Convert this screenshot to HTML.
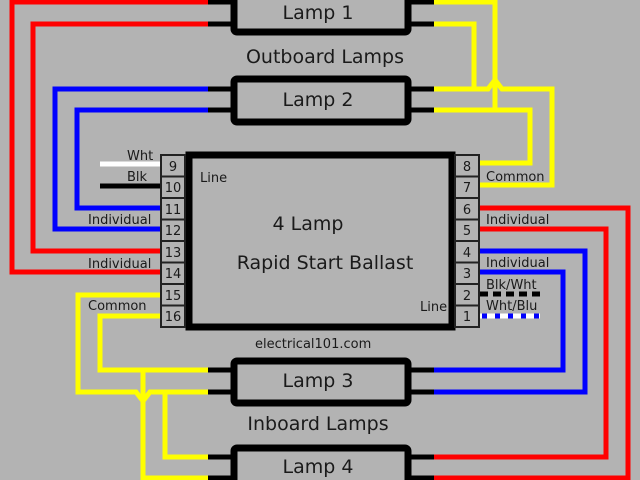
<!DOCTYPE html>
<html><head><meta charset="utf-8"><style>
html,body{margin:0;padding:0;background:#b3b3b3;}
svg{display:block;}
text{font-family:"DejaVu Sans","Liberation Sans",sans-serif;fill:#1a1a1a;}
</style></head><body>
<svg width="640" height="480" viewBox="0 0 640 480" xmlns="http://www.w3.org/2000/svg">
<rect width="640" height="480" fill="#b3b3b3"/>
<g fill="none" stroke-width="5" stroke-linejoin="miter">
<polyline points="210,2 12,2 12,272 160,272" stroke="#ff0000"/>
<polyline points="210,24 33,24 33,251 160,251" stroke="#ff0000"/>
<polyline points="210,89 55,89 55,229 160,229" stroke="#0000ff"/>
<polyline points="210,110 77,110 77,208 160,208" stroke="#0000ff"/>
<line x1="100" y1="164" x2="160" y2="164" stroke="#ffffff"/>
<line x1="100" y1="186" x2="160" y2="186" stroke="#000"/>
<polyline points="430,2 495,2 495,110" stroke="#ffff00"/>
<polyline points="430,110 530,110 530,163 480,163" stroke="#ffff00"/>
<polyline points="430,24 474,24 474,89" stroke="#ffff00"/>
<polyline points="430,89 488,89 495,80 502,89 552,89 552,185 480,185" stroke="#ffff00"/>
<polyline points="480,208 628,208 628,478 430,478" stroke="#ff0000"/>
<polyline points="480,229 606,229 606,457 430,457" stroke="#ff0000"/>
<polyline points="480,251 585,251 585,392 430,392" stroke="#0000ff"/>
<polyline points="480,272 563,272 563,370 430,370" stroke="#0000ff"/>
<line x1="480" y1="294" x2="540" y2="294" stroke="#000" stroke-dasharray="8,5"/>
<line x1="480" y1="316" x2="540" y2="316" stroke="#ffffff"/>
<line x1="482" y1="316" x2="540" y2="316" stroke="#0000ff" stroke-dasharray="5,8"/>
<polyline points="160,295 78,295 78,392 136,392 143,401 150,392 210,392" stroke="#ffff00"/>
<polyline points="160,316 100,316 100,370 210,370" stroke="#ffff00"/>
<polyline points="143,370 143,478 210,478" stroke="#ffff00"/>
<polyline points="165,392 165,457 210,457" stroke="#ffff00"/>
</g>
<g stroke="#000" stroke-width="5">
<line x1="208" y1="2" x2="232" y2="2"/><line x1="208" y1="24" x2="232" y2="24"/>
<line x1="410" y1="2" x2="434" y2="2"/><line x1="410" y1="24" x2="434" y2="24"/>
<line x1="208" y1="89" x2="232" y2="89"/><line x1="208" y1="110" x2="232" y2="110"/>
<line x1="410" y1="89" x2="434" y2="89"/><line x1="410" y1="110" x2="434" y2="110"/>
<line x1="208" y1="370" x2="232" y2="370"/><line x1="208" y1="392" x2="232" y2="392"/>
<line x1="410" y1="370" x2="434" y2="370"/><line x1="410" y1="392" x2="434" y2="392"/>
<line x1="208" y1="457" x2="232" y2="457"/><line x1="208" y1="478" x2="232" y2="478"/>
<line x1="410" y1="457" x2="434" y2="457"/><line x1="410" y1="478" x2="434" y2="478"/>
</g>
<g fill="#b3b3b3" stroke="#000" stroke-width="7">
<rect x="234" y="-20" width="174" height="52" rx="3"/>
<rect x="234" y="79" width="174" height="43" rx="3"/>
<rect x="234" y="361" width="174" height="42" rx="3"/>
<rect x="234" y="448" width="174" height="50" rx="3"/>
<rect x="189" y="155" width="263" height="172"/>
</g>
<g fill="#b3b3b3" stroke="#222" stroke-width="2">
<rect x="161" y="155" width="24" height="21.5"/><rect x="161" y="176.5" width="24" height="21.5"/>
<rect x="161" y="198" width="24" height="21.5"/><rect x="161" y="219.5" width="24" height="21.5"/>
<rect x="161" y="241" width="24" height="21.5"/><rect x="161" y="262.5" width="24" height="21.5"/>
<rect x="161" y="284" width="24" height="21.5"/><rect x="161" y="305.5" width="24" height="21.5"/>
<rect x="455" y="155" width="24" height="21.5"/><rect x="455" y="176.5" width="24" height="21.5"/>
<rect x="455" y="198" width="24" height="21.5"/><rect x="455" y="219.5" width="24" height="21.5"/>
<rect x="455" y="241" width="24" height="21.5"/><rect x="455" y="262.5" width="24" height="21.5"/>
<rect x="455" y="284" width="24" height="21.5"/><rect x="455" y="305.5" width="24" height="21.5"/>
</g>
<g font-size="13" text-anchor="middle">
<text x="173" y="171">9</text><text x="173" y="192">10</text><text x="173" y="214">11</text><text x="173" y="235">12</text>
<text x="173" y="257">13</text><text x="173" y="278">14</text><text x="173" y="300">15</text><text x="173" y="321">16</text>
<text x="467" y="171">8</text><text x="467" y="192">7</text><text x="467" y="214">6</text><text x="467" y="235">5</text>
<text x="467" y="257">4</text><text x="467" y="278">3</text><text x="467" y="300">2</text><text x="467" y="321">1</text>
</g>
<g font-size="19" text-anchor="middle">
<text x="318" y="19">Lamp 1</text>
<text x="325" y="63">Outboard Lamps</text>
<text x="318" y="106">Lamp 2</text>
<text x="308" y="230">4 Lamp</text>
<text x="325" y="269">Rapid Start Ballast</text>
<text x="318" y="387">Lamp 3</text>
<text x="318" y="430">Inboard Lamps</text>
<text x="318" y="473">Lamp 4</text>
</g>
<g font-size="13">
<text x="200" y="182">Line</text>
<text x="420" y="311">Line</text>
<text x="255" y="348">electrical101.com</text>
<text x="127" y="160">Wht</text>
<text x="127" y="181">Blk</text>
<text x="88" y="224">Individual</text>
<text x="88" y="268">Individual</text>
<text x="88" y="310">Common</text>
<text x="486" y="181">Common</text>
<text x="486" y="224">Individual</text>
<text x="486" y="267">Individual</text>
<text x="486" y="289">Blk/Wht</text>
<text x="486" y="310">Wht/Blu</text>
</g>
</svg>
</body></html>
